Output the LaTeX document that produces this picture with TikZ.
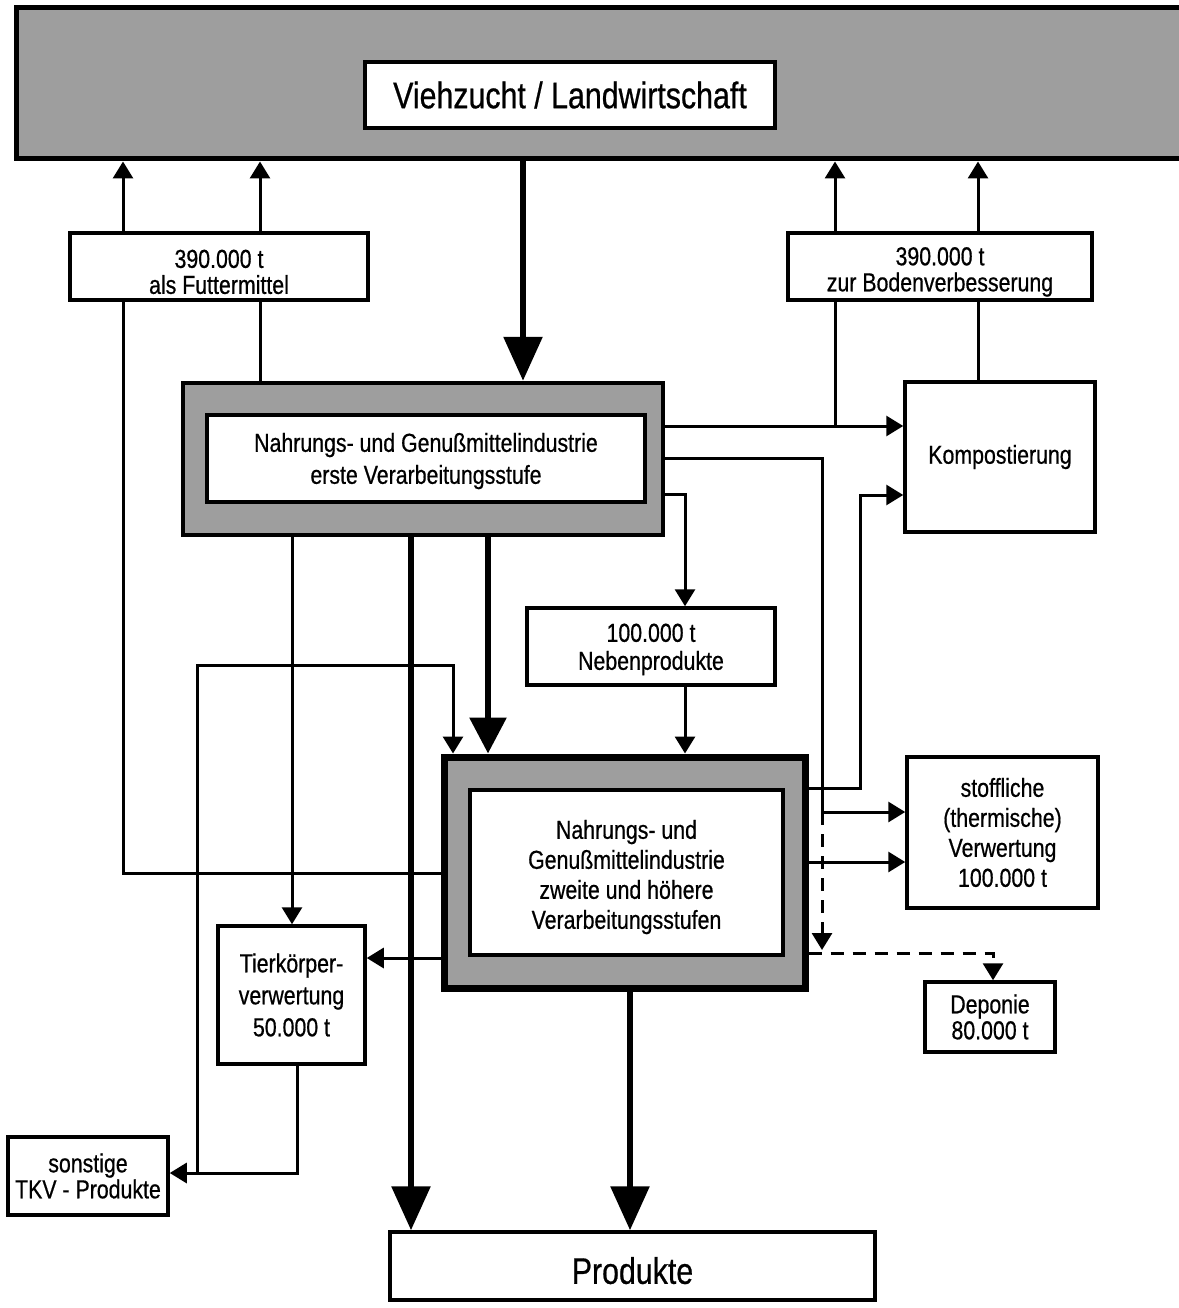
\documentclass[tikz,border=0pt]{standalone}
\usepackage{fontspec}
\setmainfont{Liberation Sans}[FakeStretch=0.82,FakeBold=0.6]
\usetikzlibrary{arrows.meta}
\begin{document}
\begin{tikzpicture}[x=1pt,y=-1pt,
  box/.style={draw, line width=3.5pt, fill=white, inner sep=0pt, align=center,
              font=\fontsize{26}{30}\selectfont},
  tight/.style={font=\fontsize{26}{26}\selectfont},
  shadebox/.style={draw, fill=black!38, inner sep=0pt},
  ln/.style={line width=3pt},
  tk/.style={line width=6pt},
  sa/.style={-{Triangle[width=20pt,length=17pt]}},
  ba/.style={-{Triangle[width=38pt,length=44pt]}},
  bb/.style={-{Triangle[width=36pt,length=36pt]}},
  dsh/.style={dash pattern=on 13pt off 9pt}
]
\useasboundingbox (0,0) rectangle (1178,1308);
\fill[white] (0,0) rectangle (1178,1308);

% ---------- nodes ----------
\node[shadebox, line width=5pt, minimum width=1174pt, minimum height=151pt] (band) at (603,83.5) {};
\node[box, line width=4pt, minimum width=410pt, minimum height=66pt, font=\fontsize{37}{40}\selectfont] (vieh) at (570,95) {Viehzucht / Landwirtschaft};

\node[box, tight, minimum width=298pt, minimum height=67pt] (futter) at (219,266.5) {\rule{0pt}{29pt}390.000 t\\als Futtermittel};
\node[box, tight, minimum width=304pt, minimum height=67pt] (boden) at (940,266.5) {\rule{0pt}{29pt}390.000 t\\zur Bodenverbesserung};

\node[shadebox, line width=4.5pt, minimum width=480pt, minimum height=152pt] (box1o) at (423,459) {};
\node[box, line width=4pt, minimum width=438pt, minimum height=87pt, font=\fontsize{26}{32}\selectfont] (box1) at (426,458.5) {\rule{0pt}{24pt}Nahrungs- und Genußmittelindustrie\\erste Verarbeitungsstufe};

\node[box, minimum width=190pt, minimum height=150pt] (kompost) at (1000,457) {Kompostierung};
\node[box, minimum width=248pt, minimum height=77pt, font=\fontsize{26}{28}\selectfont] (neben) at (651,646.5) {\rule{0pt}{24pt}100.000 t\\Nebenprodukte};

\node[shadebox, line width=7pt, minimum width=361pt, minimum height=231pt] (box2o) at (624.5,872.5) {};
\node[box, line width=4pt, minimum width=313pt, minimum height=165pt] (box2) at (626.5,872.5) {\rule{0pt}{28pt}Nahrungs- und\\Genußmittelindustrie\\zweite und höhere\\Verarbeitungsstufen};

\node[box, minimum width=191pt, minimum height=151pt] (stoff) at (1002.5,832.5) {stoffliche\\(thermische)\\Verwertung\\100.000 t};
\node[box, tight, minimum width=130pt, minimum height=70pt] (depo) at (990,1017) {Deponie\\80.000 t};
\node[box, font=\fontsize{26}{32}\selectfont, minimum width=147pt, minimum height=138pt] (tkv) at (291.5,995) {Tierkörper-\\verwertung\\50.000 t};
\node[box, tight, minimum width=160pt, minimum height=78pt] (sonst) at (88,1176) {sonstige\\TKV - Produkte};
\node[box, minimum width=485pt, minimum height=68pt, font=\fontsize{37}{40}\selectfont] (produkte) at (632.5,1266) {\rule{0pt}{36pt}Produkte};

% ---------- helper coordinates ----------
\coordinate (xa) at (123,0);
\coordinate (xb) at (260,0);
\coordinate (xd) at (523,0);
\coordinate (xe) at (835,0);
\coordinate (xf) at (978,0);
\coordinate (x822) at (822,0);
\coordinate (x685) at (685,0);
\coordinate (x860) at (860,0);
\coordinate (x993) at (993,0);
\coordinate (x292) at (292,0);
\coordinate (x411) at (411,0);
\coordinate (x488) at (488,0);
\coordinate (x297) at (297,0);
\coordinate (x197) at (197,0);
\coordinate (x453) at (453,0);
\coordinate (x630) at (630,0);
\coordinate (y873) at (0,873);
\coordinate (y426) at (0,426);
\coordinate (y458) at (0,458);
\coordinate (y812) at (0,812);
\coordinate (y950) at (0,950);
\coordinate (y953) at (0,953);
\coordinate (y494) at (0,494);
\coordinate (y495) at (0,495);
\coordinate (y788) at (0,788);
\coordinate (y862) at (0,862);
\coordinate (y958) at (0,958);
\coordinate (y1173) at (0,1173);
\coordinate (y665) at (0,665);

% ---------- connectors ----------
\draw[tk,ba] (band.south -| xd) -- (box1o.north -| xd);

\draw[ln,sa] (futter.north -| xa) -- (band.south -| xa);
\draw[ln,sa] (futter.north -| xb) -- (band.south -| xb);
\draw[ln,sa] (boden.north -| xe) -- (band.south -| xe);
\draw[ln,sa] (boden.north -| xf) -- (band.south -| xf);

\draw[ln] (box1o.north -| xb) -- (futter.south -| xb);
\draw[ln] (box2o.west |- y873) -- (xa |- y873) -- (futter.south -| xa);

\draw[ln,sa] (box1o.east |- y426) -- (kompost.west |- y426);
\draw[ln] (boden.south -| xe) -- (xe |- y426);
\draw[ln] (kompost.north -| xf) -- (boden.south -| xf);

\draw[ln,sa] (box1o.east |- y458) -- (x822 |- y458) -- (x822 |- y812) -- (stoff.west |- y812);
\draw[ln,dsh,sa] (x822 |- y812) -- (x822 |- y950);

\draw[ln,sa] (box1o.east |- y494) -- (x685 |- y494) -- (neben.north -| x685);
\draw[ln,sa] (neben.south -| x685) -- (box2o.north -| x685);

\draw[ln,sa] (box2o.east |- y788) -- (x860 |- y788) -- (x860 |- y495) -- (kompost.west |- y495);
\draw[ln,sa] (box2o.east |- y862) -- (stoff.west |- y862);
\draw[ln,dsh,sa] (box2o.east |- y953) -- (x993 |- y953) -- (depo.north -| x993);

\draw[ln,sa] (box1o.south -| x292) -- (tkv.north -| x292);
\draw[tk,ba] (box1o.south -| x411) -- (produkte.north -| x411);
\draw[tk,bb] (box1o.south -| x488) -- (box2o.north -| x488);

\draw[ln,sa] (box2o.west |- y958) -- (tkv.east |- y958);
\draw[ln,sa] (tkv.south -| x297) -- (x297 |- y1173) -- (sonst.east |- y1173);
\draw[ln,sa] (x197 |- y1173) -- (x197 |- y665) -- (x453 |- y665) -- (box2o.north -| x453);

\draw[tk,ba] (box2o.south -| x630) -- (produkte.north -| x630);
\end{tikzpicture}
\end{document}
